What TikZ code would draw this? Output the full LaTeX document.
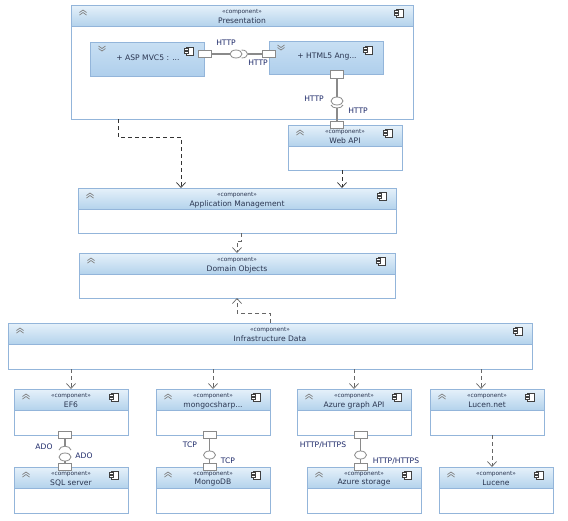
\documentclass[tikz,border=0pt]{standalone}
\usepackage{fontspec}
\setmainfont{DejaVu Sans}
\usetikzlibrary{arrows.meta,shapes.geometric,shadings,calc}
\definecolor{edgeblue}{HTML}{93B5DA}
\definecolor{headtop}{HTML}{E6F1FA}
\definecolor{headbot}{HTML}{B4D3EC}
\definecolor{innertop}{HTML}{C8DFF3}
\definecolor{innerbot}{HTML}{AFCFEC}
\definecolor{inktext}{HTML}{2A3550}
\definecolor{labeltext}{HTML}{1E2A6A}
\definecolor{wire}{HTML}{8A8A8A}
\tikzset{
  frame/.style={draw=edgeblue,line width=.9pt,fill=white,inner sep=0pt,outer sep=0pt,anchor=north west},
  headbar/.style={draw=edgeblue,line width=.6pt,top color=headtop,bottom color=headbot,inner sep=0pt,outer sep=0pt,anchor=north west},
  innerbox/.style={draw=edgeblue,line width=.9pt,top color=innertop,bottom color=innerbot,inner sep=0pt,outer sep=0pt,anchor=north west},
  stereo/.style={font=\fontsize{5.8}{6}\selectfont,text=inktext,inner sep=0pt},
  title/.style={font=\fontsize{7.6}{9}\selectfont,text=inktext,inner sep=0pt},
  wirelabel/.style={font=\fontsize{7.6}{9}\selectfont,text=labeltext,inner sep=0pt},
  portbox/.style={draw=wire,line width=.8pt,fill=white,minimum width=13pt,minimum height=7.5pt,inner sep=0pt,outer sep=0pt},
  ball/.style={draw=wire,line width=.8pt,fill=white,ellipse,minimum width=12pt,minimum height=8pt,inner sep=0pt,outer sep=0pt},
  wireline/.style={draw=wire,line width=1.1pt},
  sock/.style={draw=wire,line width=.8pt},
  dep/.style={draw=black!80,line width=.9pt,dash pattern=on 4pt off 3pt},
  depgray/.style={draw=black!60,line width=.9pt,dash pattern=on 4pt off 3pt},
  tip/.style={-{Straight Barb[length=5pt,width=9pt,line width=.7pt]}}
}
\newcommand{\chevup}[1]{\begin{scope}[shift={(#1)},draw=black!50,line width=.7pt]
  \draw (-3.5,.5) -- (0,-2) -- (3.5,.5); \draw (-3.5,3) -- (0,.5) -- (3.5,3);\end{scope}}
\newcommand{\chevdown}[1]{\begin{scope}[shift={(#1)},draw=black!50,line width=.7pt]
  \draw (-3.5,-2.5) -- (0,0) -- (3.5,-2.5); \draw (-3.5,0) -- (0,2.5) -- (3.5,0);\end{scope}}
\newcommand{\compicon}[1]{\begin{scope}[shift={(#1)},draw=black!75,line width=.8pt]
  \draw[fill=white] (-3,-4) rectangle (4.5,4);
  \draw[fill=white] (-5,-2.4) rectangle (-1,-.6);
  \draw[fill=white] (-5,.6) rectangle (-1,2.4);\end{scope}}
% name, x, y, w, h, title
\newcommand{\comp}[6]{%
  \node[frame,minimum width=#4pt,minimum height=#5pt] (#1) at (#2,#3) {};
  \node[headbar,minimum width=#4pt,minimum height=21pt] (#1-head) at (#1.north west) {};
  \node[stereo] (#1-st) at ($(#1.north)+(0,7.5)$) {«component»};
  \node[title] (#1-ti) at ($(#1.north)+(0,16)$) {#6};
  \chevup{$(#1.north west)+(12,7)$}
  \compicon{$(#1.north east)+(-14,8)$}
}
% name, x, y, w, h, text, text x offset
\newcommand{\inner}[7]{%
  \node[innerbox,minimum width=#4pt,minimum height=#5pt] (#1) at (#2,#3) {};
  \node[title] (#1-ti) at ($(#1.north west)+(#7,15.5)$) {#6};
  \chevdown{$(#1.north west)+(12,6.5)$}
  \compicon{$(#1.north east)+(-15,9)$}
}
\begin{document}
\begin{tikzpicture}[x=1pt,y=-1pt]
\useasboundingbox[fill=white] (0,0) rectangle (568,520);

\comp{pres}{71}{5}{342}{114}{Presentation}
\inner{asp}{90}{42}{114}{34}{+ ASP MVC5 : ...}{58}
\inner{html}{269}{41}{114}{33}{+ HTML5 Ang...}{58}
\comp{webapi}{288}{125}{114}{45}{Web API}
\comp{app}{78}{188}{318}{45}{Application Management}
\comp{domain}{79}{253}{316}{45}{Domain Objects}
\comp{infra}{8}{323}{524}{46}{Infrastructure Data}
\comp{ef}{14}{389}{114}{46}{EF6}
\comp{mongo}{156}{389}{114}{46}{mongocsharp...}
\comp{azapi}{297}{389}{114}{46}{Azure graph API}
\comp{lucnet}{430}{389}{114}{46}{Lucen.net}
\comp{sql}{14}{467}{114}{46}{SQL server}
\comp{mongodb}{156}{467}{114}{46}{MongoDB}
\comp{azstore}{307}{467}{114}{46}{Azure storage}
\comp{lucene}{439}{467}{114}{46}{Lucene}

% dependencies
\draw[dep,tip] ([xshift=47pt]pres.south west) -- ++(0,18) -| ([xshift=103pt]app.north west);
\draw[dep,tip] ([xshift=54pt]webapi.south west) -- ([xshift=264pt]app.north west);
\draw[depgray,tip] ([xshift=163pt]app.south west) -- ++(0,8) -| ([xshift=158pt]domain.north west);
\draw[depgray,tip] ([xshift=262pt]infra.north west) -- ++(0,-10) -| ([xshift=158pt]domain.south west);
\draw[depgray,tip] ([xshift=63pt]infra.south west) -- ([xshift=57pt]ef.north west);
\draw[depgray,tip] ([xshift=205pt]infra.south west) -- ([xshift=57pt]mongo.north west);
\draw[depgray,tip] ([xshift=346pt]infra.south west) -- ([xshift=57pt]azapi.north west);
\draw[depgray,tip] ([xshift=473pt]infra.south west) -- ([xshift=51pt]lucnet.north west);
\draw[depgray,tip] ([xshift=62pt]lucnet.south west) -- ([xshift=53pt]lucene.north west);

% ASP -- HTML
\node[portbox] (p1) at (204.5,54) {};
\node[portbox] (p2) at (269,54) {};
\node[ball] (b1) at (236,54) {};
\coordinate (s1) at (248,54);
\draw[wireline] (p1) -- (b1);
\draw[wireline] (s1) -- (p2);
\draw[sock] (241.5,50) .. controls (249.5,50) and (249.5,58) .. (241.5,58);
\node[wirelabel] (l1) at (226,43) {HTTP};
\node[wirelabel] (l2) at (258,63) {HTTP};

% HTML -- Web API
\node[portbox] (p3) at (337,74.5) {};
\node[portbox] (p4) at (337,125) {};
\node[ball] (b2) at (337,101) {};
\coordinate (s2) at (337,108);
\draw[wireline] (p3) -- (b2);
\draw[wireline] (s2) -- (p4);
\draw[sock] (331,105) .. controls (332,109) and (342,109) .. (343,105);
\node[wirelabel] (l3) at (314,99) {HTTP};
\node[wirelabel] (l4) at (358,111) {HTTP};

% EF6 -- SQL server
\node[portbox] (p5) at (65,435) {};
\node[portbox] (p6) at (65,467) {};
\node[ball] (b3) at (65,457) {};
\coordinate (s3) at (65,446);
\draw[wireline] (p5) -- (s3);
\draw[wireline] (b3) -- (p6);
\draw[sock] (59,450) .. controls (60,445) and (70,445) .. (71,450);
\node[wirelabel] (l5) at (44,447) {ADO};
\node[wirelabel] (l6) at (84,456) {ADO};

% mongocsharp -- MongoDB
\node[portbox] (p7) at (209.5,435) {};
\node[portbox] (p8) at (209.5,467) {};
\node[ball] (b4) at (209.5,455) {};
\draw[wireline] (p7) -- (b4);
\draw[wireline] (b4) -- (p8);
\node[wirelabel] (l7) at (190,445) {TCP};
\node[wirelabel] (l8) at (228,461) {TCP};

% Azure graph API -- Azure storage
\node[portbox] (p9) at (360.5,435) {};
\node[portbox] (p10) at (360.5,467) {};
\node[ball] (b5) at (360.5,455) {};
\draw[wireline] (p9) -- (b5);
\draw[wireline] (b5) -- (p10);
\node[wirelabel] (l9) at (323,445) {HTTP/HTTPS};
\node[wirelabel] (l10) at (396,461) {HTTP/HTTPS};
\end{tikzpicture}
\end{document}
